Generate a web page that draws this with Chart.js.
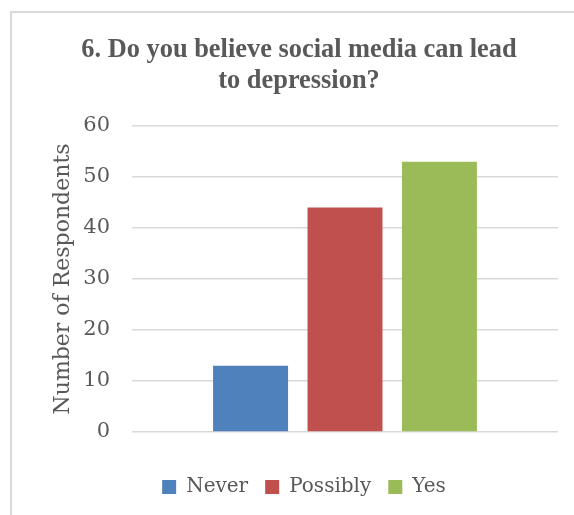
<!DOCTYPE html>
<html>
<head>
<meta charset="utf-8">
<script src="https://cdn.jsdelivr.net/npm/chart.js@4"></script>
<style>
    body { margin: 0; background: #fff; overflow: hidden; }
    #frame {
        position: absolute; left: 10px; top: 11px;
        width: 600px; height: 540px;
        border: 2px solid #d9d9d9;
    }
    #wrap { position: absolute; left: 0; top: 0; width: 574px; height: 515px; }
</style>
</head>
<body>
<div id="frame"></div>
<div id="wrap"><canvas id="surveyChart"></canvas></div>
<script>
const titleLines = ['6. Do you believe social media can lead', 'to depression?'];
const categories = [''];
const answers = ['Never', 'Possibly', 'Yes'];
const respondents = [13, 44, 53];
const barColors = ['#4F81BD', '#C0504D', '#9BBB59'];
const yTicks = [0, 10, 20, 30, 40, 50, 60];

const textColor = '#595959';

// Title sits slightly left of the legend centre, so it is drawn by hand
const titlePlugin = {
    id: 'leftTitle',
    afterDraw(chart) {
        const ctx = chart.ctx;
        ctx.save();
        ctx.font = 'bold 26.4px "Liberation Serif", "Times New Roman", serif';
        ctx.fillStyle = textColor;
        ctx.textAlign = 'center';
        ctx.textBaseline = 'alphabetic';
        titleLines.forEach((line, i) => {
            ctx.fillText(line, 299, 57 + i * 31);
        });
        ctx.restore();
    }
};

const ctx = document.getElementById('surveyChart').getContext('2d');

new Chart(ctx, {
    type: 'bar',
    data: {
        labels: categories,
        datasets: answers.map((name, i) => ({
            label: name,
            data: [respondents[i]],
            backgroundColor: barColors[i],
            borderWidth: 0,
            categoryPercentage: 0.665,
            barPercentage: 0.794
        }))
    },
    options: {
        responsive: true,
        maintainAspectRatio: false,
        animation: false,
        layout: {
            padding: { left: 50, right: 16, top: 126, bottom: 8 }
        },
        scales: {
            x: {
                grid: { display: false },
                border: { display: false },
                ticks: { display: false },
                afterFit: scale => { scale.height = 28; }
            },
            y: {
                min: 0,
                max: 60,
                afterBuildTicks: scale => {
                    scale.ticks = yTicks.map(v => ({ value: v }));
                },
                afterFit: scale => { scale.width = 82; },
                grid: { color: '#d9d9d9', lineWidth: 1.5, drawTicks: false },
                border: { display: false },
                ticks: {
                    padding: 22,
                    color: textColor,
                    font: { family: '"DejaVu Serif", serif', size: 21 }
                },
                title: {
                    display: true,
                    text: 'Number of Respondents',
                    color: textColor,
                    padding: { top: 0, bottom: 6 },
                    font: { family: '"DejaVu Serif", serif', size: 22 }
                }
            }
        },
        plugins: {
            legend: {
                position: 'bottom',
                labels: {
                    boxWidth: 14,
                    boxHeight: 14,
                    padding: 17,
                    color: textColor,
                    font: { family: '"DejaVu Serif", serif', size: 20 }
                }
            },
            title: { display: false },
            tooltip: { enabled: false }
        }
    },
    plugins: [titlePlugin]
});
</script>
</body>
</html>
